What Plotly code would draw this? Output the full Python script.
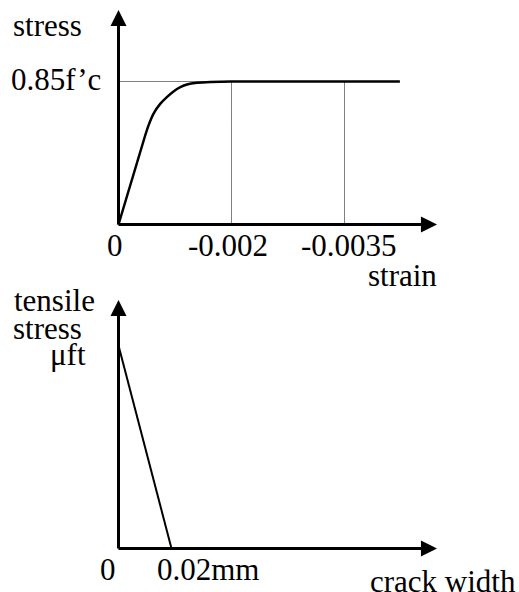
import plotly.graph_objects as go

# ---------------- data ----------------
# top chart: compressive stress-strain (schematic strain positions)
strain_tick_pos = [0, 1, 2]
strain_tick_labels = ["0", "-0.002", "-0.0035"]
curve_pos = [0, 0.236, 0.265, 0.309, 0.369, 0.428, 0.487, 0.547, 0.606, 0.695, 0.813, 1.0, 2.49]
curve_stress = [0, 0.529, 0.588, 0.658, 0.717, 0.757, 0.791, 0.816, 0.832, 0.842, 0.847, 0.85, 0.85]
peak_stress = 0.85
peak_label = "0.85f’c"

# bottom chart: tensile softening
crack_width = [0.0, 0.02]          # mm
tensile_stress = [1.0, 0.0]         # in units of μft
crack_tick_pos = [0.0, 0.02]
crack_tick_labels = ["0", "0.02mm"]

# ---------------- figure ----------------
W, H = 519, 592
FONT = "Liberation Serif"
FS = 31

# pixel geometry of the two schematic plots
X0 = 118.5                 # y-axis position (px)
TOP_Y0, TOP_SX, TOP_SY = 224.5, 113.0, 168.24
BOT_Y0, BOT_SX, BOT_SY = 548.5, 2650.0, 203.0


def P(px, py):
    return px / W, 1 - py / H


fig = go.Figure()

dot = dict(color="black", width=1, dash="1px,1px")
fig.add_trace(go.Scatter(x=[0, strain_tick_pos[1]], y=[peak_stress, peak_stress],
                         mode="lines", line=dot, xaxis="x", yaxis="y", hoverinfo="skip"))
for p in strain_tick_pos[1:]:
    fig.add_trace(go.Scatter(x=[p, p], y=[0, peak_stress], mode="lines", line=dot,
                             xaxis="x", yaxis="y", hoverinfo="skip"))
fig.add_trace(go.Scatter(x=curve_pos, y=curve_stress, mode="lines",
                         line=dict(color="black", width=2.5, shape="spline", smoothing=0.3),
                         xaxis="x", yaxis="y"))

fig.add_trace(go.Scatter(x=crack_width, y=tensile_stress, mode="lines",
                         line=dict(color="black", width=2),
                         xaxis="x2", yaxis="y2"))

annotations = []


def axis_arrow(xr, yr, x0, y0, x1, y1):
    annotations.append(dict(x=x1, y=y1, ax=x0, ay=y0, xref=xr, yref=yr, axref=xr, ayref=yr,
                            text="", showarrow=True, arrowhead=2, arrowsize=1.07,
                            arrowwidth=3, arrowcolor="black", standoff=0, startstandoff=0))


# top axes
axis_arrow("x", "y", 0, -1.5 / TOP_SY, 0, (TOP_Y0 - 10) / TOP_SY)
axis_arrow("x", "y", -1.5 / TOP_SX, 0, (437 - X0) / TOP_SX, 0)
# bottom axes
axis_arrow("x2", "y2", 0, -1.5 / BOT_SY, 0, (BOT_Y0 - 300) / BOT_SY)
axis_arrow("x2", "y2", -1.5 / BOT_SX, 0, (437 - X0) / BOT_SX, 0)


def label(text, px, py, xanchor="center"):
    x, y = P(px, py)
    annotations.append(dict(x=x, y=y, xref="paper", yref="paper", text=text,
                            showarrow=False, xanchor=xanchor, yanchor="middle",
                            font=dict(family=FONT, size=FS, color="black")))


# top labels
label("stress", 47, 25.5)
label(peak_label, 56, 79)
label(strain_tick_labels[0], 115, 245.5)
label(strain_tick_labels[1], 228, 245.5)
label(strain_tick_labels[2], 349, 245.5)
label("strain", 402, 275.5)
# bottom labels
label("tensile", 54, 300.5)
label("stress", 47, 328)
label("μft", 67.5, 354)
label(crack_tick_labels[0], 107.5, 569)
label(crack_tick_labels[1], 207.5, 569)
label("crack width", 442.5, 581.5)

hidden = dict(visible=False, showgrid=False, zeroline=False, fixedrange=True)
fig.update_layout(
    width=W, height=H,
    margin=dict(l=0, r=0, t=0, b=0),
    paper_bgcolor="white", plot_bgcolor="white",
    showlegend=False,
    xaxis=dict(domain=[0, 1], range=[-X0 / TOP_SX, (W - X0) / TOP_SX], anchor="y", **hidden),
    yaxis=dict(domain=[0.5, 1], range=[-(296 - TOP_Y0) / TOP_SY, TOP_Y0 / TOP_SY], anchor="x", **hidden),
    xaxis2=dict(domain=[0, 1], range=[-X0 / BOT_SX, (W - X0) / BOT_SX], anchor="y2", **hidden),
    yaxis2=dict(domain=[0, 0.5], range=[-(H - BOT_Y0) / BOT_SY, (BOT_Y0 - 296) / BOT_SY], anchor="x2", **hidden),
    annotations=annotations,
)

fig.write_html("out.html", config={"staticPlot": True},
               post_script="document.body.style.margin='0';document.body.style.overflow='hidden';")
